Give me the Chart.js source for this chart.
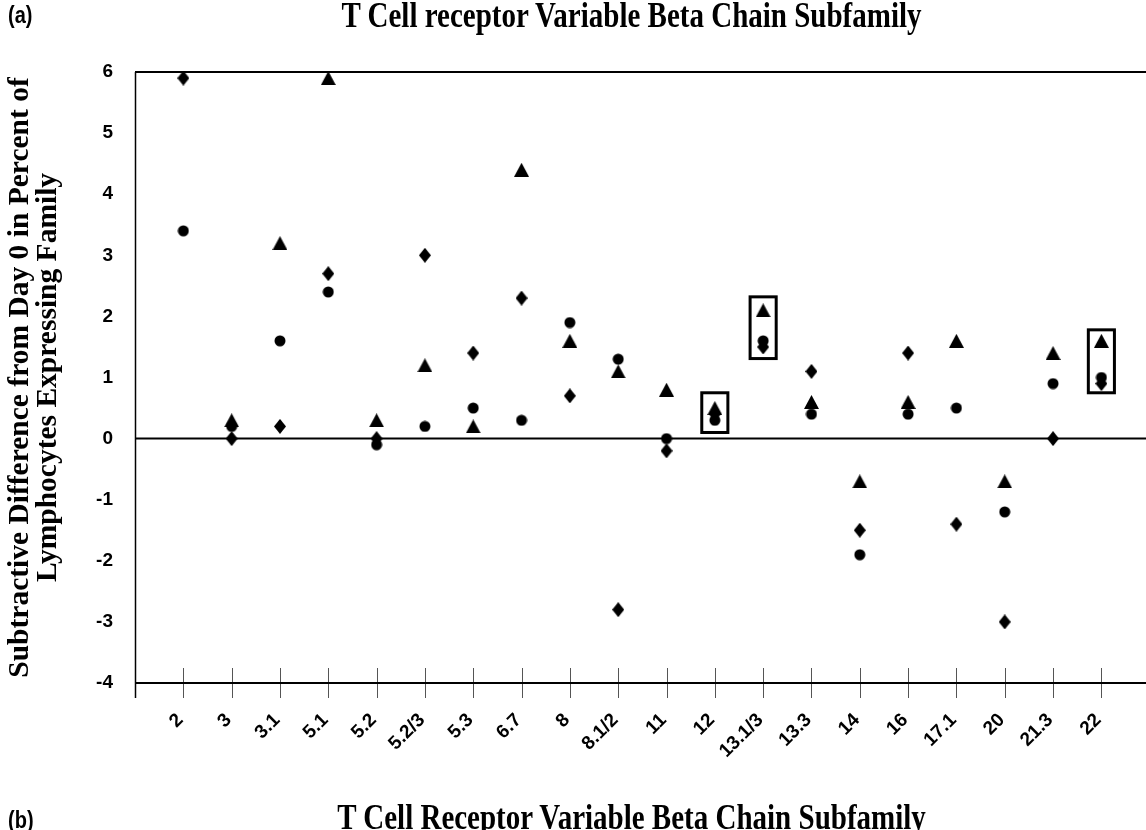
<!DOCTYPE html>
<html>
<head>
<meta charset="utf-8">
<script src="https://cdn.jsdelivr.net/npm/chart.js@4.4.1/dist/chart.umd.min.js"></script>
<style>
  html, body { margin: 0; padding: 0; background: #fff; }
  #wrap { position: relative; width: 1146px; height: 830px; overflow: hidden; background: #fff; }
  #c { position: absolute; left: 0; top: 0; }
  .panel { position: absolute; font-family: 'Liberation Sans', Arial, sans-serif; font-weight: bold;
           font-size: 20px; line-height: 20px; color: #000; transform: scaleY(1.15); transform-origin: 0 50%; }
  .ttl { position: absolute; left: 126px; width: 1011px; text-align: center; white-space: nowrap;
         font-family: 'Liberation Serif', 'Times New Roman', serif; font-weight: bold; font-size: 29px;
         line-height: 29px; color: #000; transform: scaleY(1.2); transform-origin: 50% 24px; }
</style>
</head>
<body>
<div id="wrap">
  <canvas id="c" width="1146" height="830"></canvas>
  <div class="panel" style="left:8px;top:5px;">(a)</div>
  <div class="ttl" style="top:3px;">T Cell receptor Variable Beta Chain Subfamily</div>
  <div class="panel" style="left:8px;top:810px;">(b)</div>
  <div class="ttl" style="top:805px;">T Cell Receptor Variable Beta Chain Subfamily</div>
</div>
<script>
// ---- data ----
const categories = ['2','3','3.1','5.1','5.2','5.2/3','5.3','6.7','8','8.1/2','11','12','13.1/3','13.3','14','16','17.1','20','21.3','22'];
const diamondValues  = [5.9, 0, 0.2, 2.7, 0, 3.0, 1.4, 2.3, 0.7, -2.8, -0.2, 0.4, 1.5, 1.1, -1.5, 1.4, -1.4, -3.0, 0, 0.9];
const circleValues   = [3.4, 0.2, 1.6, 2.4, -0.1, 0.2, 0.5, 0.3, 1.9, 1.3, 0, 0.3, 1.6, 0.4, -1.9, 0.4, 0.5, -1.2, 0.9, 1.0];
const triangleValues = [null, 0.3, 3.2, 5.9, 0.3, 1.2, 0.2, 4.4, 1.6, 1.1, 0.8, 0.5, 2.1, 0.6, -0.7, 0.6, 1.6, -0.7, 1.4, 1.6];
const yTickValues = [-4, -3, -2, -1, 0, 1, 2, 3, 4, 5, 6];
const yTitle = ['Subtractive Difference from Day 0 in Percent of', 'Lymphocytes Expressing Family'];
// highlighted subfamilies (boxed) with the value range each box spans
const boxCategories = ['12', '13.1/3', '22'];
const boxTop    = [0.75, 2.32, 1.78];
const boxBottom = [0.10, 1.31, 0.75];

// ---- marker images ----
function makeMarker(w, h, drawFn) {
  const c = document.createElement('canvas');
  c.width = w; c.height = h;
  const g = c.getContext('2d');
  g.fillStyle = '#000';
  g.beginPath(); drawFn(g, w, h); g.closePath(); g.fill();
  return c;
}
const diamondImg = makeMarker(12, 15, (g, w, h) => { g.moveTo(w/2, 0); g.lineTo(w, h/2); g.lineTo(w/2, h); g.lineTo(0, h/2); });
const circleImg = makeMarker(12, 12, (g, w, h) => { g.arc(w/2, h/2, 5.5, 0, Math.PI*2); });
const triangleImg = makeMarker(15, 14, (g, w, h) => { g.moveTo(w/2, 0); g.lineTo(w, h); g.lineTo(0, h); });

function toPoints(vals) {
  return vals.map((v, i) => ({ x: i + 1, y: v })).filter(p => p.y !== null);
}

const framePlugin = {
  id: 'frame',
  beforeDatasetsDraw(chart) {
    const { ctx, chartArea: { left, top, bottom }, scales: { x, y } } = chart;
    const right = chart.width; // the frame runs off the right edge of the picture
    ctx.save();
    const line = (x1, y1, x2, y2, w, col) => {
      ctx.lineWidth = w; ctx.strokeStyle = col || '#000';
      ctx.beginPath(); ctx.moveTo(x1, y1); ctx.lineTo(x2, y2); ctx.stroke();
    };
    // tick marks crossing the bottom axis
    x.ticks.forEach(t => {
      const px = Math.round(x.getPixelForValue(t.value)) + 0.5;
      line(px, bottom - 15, px, bottom + 15, 1, '#555');
    });
    line(left, top, right, top, 2);
    line(left + 0.5, top, left + 0.5, bottom + 15, 1.5);
    const y0 = y.getPixelForValue(0);
    line(left, y0, right, y0, 2);
    line(left, bottom, right, bottom, 2);
    ctx.restore();
  },
  afterDatasetsDraw(chart) {
    const { ctx, scales: { x, y } } = chart;
    ctx.save();
    ctx.strokeStyle = '#000';
    ctx.lineWidth = 3;
    boxCategories.forEach((c, i) => {
      const idx = categories.indexOf(c) + 1;
      const x1 = x.getPixelForValue(idx - 0.27), x2 = x.getPixelForValue(idx + 0.27);
      const y1 = y.getPixelForValue(boxTop[i]), y2 = y.getPixelForValue(boxBottom[i]);
      ctx.strokeRect(x1, y1, x2 - x1, y2 - y1);
    });
    ctx.restore();
  }
};

const tickFont = { family: "'Liberation Sans', Arial, sans-serif", weight: 'bold', size: 19 };

new Chart(document.getElementById('c'), {
  type: 'scatter',
  data: {
    datasets: [
      { label: 'Diamond series', data: toPoints(diamondValues), pointStyle: diamondImg, clip: false },
      { label: 'Circle series', data: toPoints(circleValues), pointStyle: circleImg, clip: false },
      { label: 'Triangle series', data: toPoints(triangleValues), pointStyle: triangleImg, clip: false }
    ]
  },
  options: {
    responsive: false,
    animation: false,
    devicePixelRatio: 1,
    events: [],
    layout: { padding: { top: 72, left: 0, right: 0, bottom: 0 } },
    plugins: { legend: { display: false }, tooltip: { enabled: false }, title: { display: false } },
    scales: {
      x: {
        type: 'linear',
        min: 0,
        max: 20.82,
        afterBuildTicks: s => { s.ticks = categories.map((c, i) => ({ value: i + 1 })); },
        afterFit: s => { s.height = 147; s.paddingLeft = 0; s.paddingRight = 0; },
        grid: { display: false },
        border: { display: false },
        ticks: {
          autoSkip: false,
          minRotation: 45,
          maxRotation: 45,
          padding: 18,
          labelOffset: -3,
          color: '#000',
          font: tickFont,
          callback: v => categories[v - 1] ?? ''
        }
      },
      y: {
        min: -4,
        max: 6,
        afterBuildTicks: s => { s.ticks = yTickValues.map(v => ({ value: v })); },
        afterFit: s => { s.width = 135; },
        grid: { display: false },
        border: { display: false },
        ticks: { padding: 14, color: '#000', font: tickFont },
        title: {
          display: true,
          text: yTitle,
          color: '#000',
          font: { family: "'Liberation Serif', 'Times New Roman', serif", weight: 'bold', size: 29.5, lineHeight: 0.94 },
          padding: { top: 7, bottom: 0 }
        }
      }
    }
  },
  plugins: [framePlugin]
});
</script>
</body>
</html>
